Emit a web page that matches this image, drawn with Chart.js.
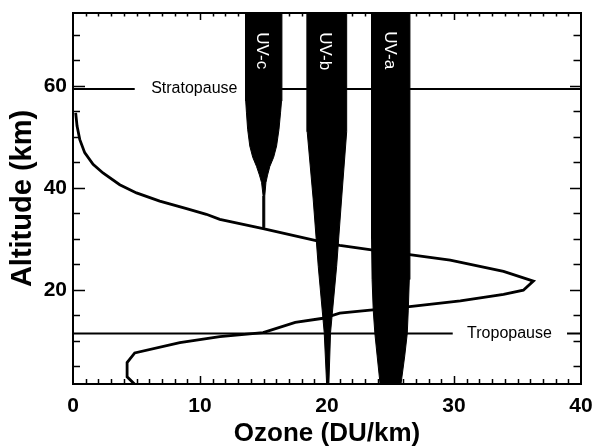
<!DOCTYPE html>
<html>
<head>
<meta charset="utf-8">
<script src="https://cdn.jsdelivr.net/npm/chart.js@4.4.1/dist/chart.umd.min.js"></script>
<style>
  html, body { margin: 0; padding: 0; background: #fff; }
</style>
</head>
<body>
<canvas id="chart" width="593" height="448"></canvas>
<script>
// ozone profile, read top to bottom (DU/km, km)
const ozoneDU = [0.21, 0.32, 0.53, 0.92, 1.58, 2.36, 3.68, 5.0, 6.83, 8.94, 10.5, 11.56, 13.4, 14.97,
  19.05, 21.0, 23.5, 26.5, 29.7, 33.9, 36.25, 35.46, 33.9, 30.5, 26.5, 23.4, 21.0, 19.7, 17.5,
  14.97, 11.56, 8.41, 4.86, 4.26, 4.26, 4.86];
const ozoneAlt = [54.7, 52.1, 49.5, 46.9, 44.6, 42.9, 40.6, 39.0, 37.4, 35.9, 34.8, 33.8, 32.8, 32.0,
  29.7, 28.7, 27.8, 26.9, 25.8, 23.6, 21.7, 19.9, 19.1, 17.8, 16.7, 16.0, 15.4, 14.4, 13.6,
  11.6, 10.8, 9.6, 7.6, 5.7, 2.9, 1.43];

// UV penetration bands: altitude, left edge, right edge (DU/km axis)
const uvcAlt = [76, 57, 54.7, 51.5, 48.2, 46, 44.2, 42.5, 41, 38.4, 32.2];
const uvcLeft = [13.58, 13.6, 13.66, 13.75, 13.92, 14.15, 14.45, 14.68, 14.85, 14.97, 14.97];
const uvcRight = [16.45, 16.42, 16.34, 16.22, 16.03, 15.8, 15.5, 15.32, 15.19, 15.1, 15.08];

const uvbAlt = [76, 51, 37.8, 24.6, 11.6, 1.0];
const uvbLeft = [18.44, 18.44, 18.91, 19.31, 19.78, 19.98];
const uvbRight = [21.55, 21.55, 21.15, 20.76, 20.28, 20.14];

const uvaAlt = [76, 30, 22, 16, 11.4, 7, 1.0];
const uvaLeft = [23.51, 23.51, 23.55, 23.64, 23.77, 23.95, 24.2];
const uvaRight = [26.53, 26.53, 26.48, 26.4, 26.32, 26.12, 25.8];

// layer boundaries
const stratopauseAlt = 59.4;
const stratopauseSpans = [[0, 4.86], [14, 40]];
const tropopauseAlt = 11.4;
const tropopauseSpans = [[0, 29.9], [38.9, 40]];

const xTicks = [0, 10, 20, 30, 40];
const yTicks = [20, 40, 60];

const boundaryLabels = [
  { text: "Stratopause", x: 9.55, y: stratopauseAlt },
  { text: "Tropopause", x: 34.37, y: tropopauseAlt },
];
const uvLabels = [
  { text: "UV-c", x: 14.88, y: 66.9 },
  { text: "UV-b", x: 19.8, y: 66.8 },
  { text: "UV-a", x: 24.9, y: 67.0 },
];

function band(alt, left, right) {
  const pts = alt.map((a, i) => ({ x: left[i], y: a }));
  for (let i = alt.length - 1; i >= 0; i--) pts.push({ x: right[i], y: alt[i] });
  return pts;
}

function spans(alt, list) {
  const pts = [];
  list.forEach((s, i) => {
    if (i > 0) pts.push({ x: (list[i - 1][1] + s[0]) / 2, y: null });
    pts.push({ x: s[0], y: alt }, { x: s[1], y: alt });
  });
  return pts;
}

const bandStyle = {
  fill: "shape",
  backgroundColor: "#000",
  borderColor: "#000",
  borderWidth: 1,
  pointRadius: 0,
  tension: 0,
};

// no label overflow padding, chart area comes from layout padding only
function noPad(s) {
  s.paddingTop = 0;
  s.paddingBottom = 0;
  s.paddingLeft = 0;
  s.paddingRight = 0;
}

// frame, inward ticks and text annotations
const decorations = {
  id: "decorations",
  afterDraw(chart) {
    const { ctx, chartArea: a, scales: { x, y } } = chart;
    ctx.save();
    ctx.strokeStyle = "#000";
    ctx.lineWidth = 2;
    ctx.strokeRect(a.left, a.top, a.right - a.left, a.bottom - a.top);

    ctx.lineWidth = 1.5;
    ctx.beginPath();
    for (let v = 1; v < 40; v++) {
      const px = Math.round(x.getPixelForValue(v)) + 0.5;
      const major = v % 10 === 0;
      ctx.moveTo(px, a.bottom);
      ctx.lineTo(px, a.bottom - (major ? 8 : 5));
      ctx.moveTo(px, a.top);
      ctx.lineTo(px, a.top + (major ? 7 : 3.5));
    }
    for (let v = 5; v < 75; v += 5) {
      const py = Math.round(y.getPixelForValue(v)) + 0.5;
      const major = v % 20 === 0;
      ctx.moveTo(a.left, py);
      ctx.lineTo(a.left + (major ? 12 : 7), py);
      ctx.moveTo(a.right, py);
      ctx.lineTo(a.right - (major ? 11 : 7.5), py);
    }
    ctx.stroke();

    ctx.fillStyle = "#000";
    ctx.font = "16px 'Liberation Sans', Arial, sans-serif";
    ctx.textAlign = "center";
    ctx.textBaseline = "middle";
    boundaryLabels.forEach(l => {
      ctx.fillText(l.text, x.getPixelForValue(l.x), y.getPixelForValue(l.y));
    });

    ctx.fillStyle = "#fff";
    ctx.font = "17px 'Liberation Sans', Arial, sans-serif";
    uvLabels.forEach(l => {
      ctx.save();
      ctx.translate(x.getPixelForValue(l.x), y.getPixelForValue(l.y));
      ctx.rotate(Math.PI / 2);
      ctx.fillText(l.text, 0, 0);
      ctx.restore();
    });
    ctx.restore();
  },
};

new Chart(document.getElementById("chart"), {
  type: "line",
  data: {
    datasets: [
      {
        label: "Ozone",
        data: ozoneDU.map((v, i) => ({ x: v, y: ozoneAlt[i] })),
        borderColor: "#000",
        borderWidth: 2.8,
        pointRadius: 0,
        fill: false,
        tension: 0,
      },
      {
        label: "Stratopause",
        data: spans(stratopauseAlt, stratopauseSpans),
        borderColor: "#000",
        borderWidth: 2,
        pointRadius: 0,
        fill: false,
      },
      {
        label: "Tropopause",
        data: spans(tropopauseAlt, tropopauseSpans),
        borderColor: "#000",
        borderWidth: 2,
        pointRadius: 0,
        fill: false,
      },
      { label: "UV-c", data: band(uvcAlt, uvcLeft, uvcRight), ...bandStyle },
      { label: "UV-b", data: band(uvbAlt, uvbLeft, uvbRight), ...bandStyle },
      { label: "UV-a", data: band(uvaAlt, uvaLeft, uvaRight), ...bandStyle },
    ],
  },
  options: {
    responsive: false,
    animation: false,
    devicePixelRatio: 1,
    layout: { padding: { top: 13, right: 12, left: 0, bottom: 0 } },
    scales: {
      x: {
        type: "linear",
        min: 0,
        max: 40,
        afterBuildTicks: s => { s.ticks = xTicks.map(v => ({ value: v })); },
        afterFit: s => { s.height = 64; noPad(s); },
        grid: { display: false, drawTicks: false },
        border: { display: false },
        ticks: {
          color: "#000",
          padding: 10,
          maxRotation: 0,
          font: { family: "'Liberation Sans', Arial, sans-serif", size: 21, weight: "bold" },
        },
        title: {
          display: true,
          text: "Ozone (DU/km)",
          color: "#000",
          padding: { top: 0, bottom: 0 },
          font: { family: "'Liberation Sans', Arial, sans-serif", size: 26, weight: "bold", lineHeight: 1.1 },
        },
      },
      y: {
        type: "linear",
        min: 1.5,
        max: 74.3,
        afterBuildTicks: s => { s.ticks = yTicks.map(v => ({ value: v })); },
        afterFit: s => { s.width = 73; noPad(s); },
        grid: { display: false, drawTicks: false },
        border: { display: false },
        ticks: {
          color: "#000",
          padding: 6,
          font: { family: "'Liberation Sans', Arial, sans-serif", size: 21, weight: "bold" },
        },
        title: {
          display: true,
          text: "Altitude (km)",
          color: "#000",
          padding: { top: 6, bottom: 0 },
          font: { family: "'Liberation Sans', Arial, sans-serif", size: 29, weight: "bold" },
        },
      },
    },
    plugins: {
      legend: { display: false },
      title: { display: false },
      tooltip: { enabled: false },
    },
  },
  plugins: [decorations],
});
</script>
</body>
</html>
